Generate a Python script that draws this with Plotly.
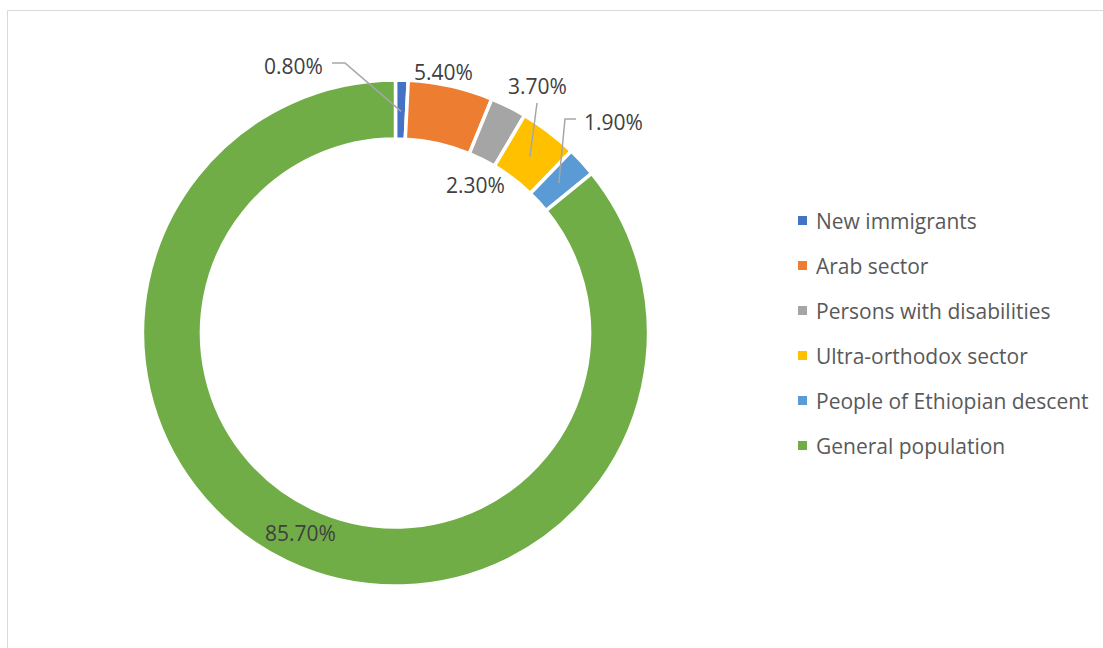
import math
import plotly.graph_objects as go

# ---- data ----
categories = ["New immigrants", "Arab sector", "Persons with disabilities",
              "Ultra-orthodox sector", "People of Ethiopian descent", "General population"]
values = [0.8, 5.4, 2.3, 3.7, 1.9, 85.7]
colors = ["#4472C4", "#ED7D31", "#A5A5A5", "#FFC000", "#5B9BD5", "#70AD47"]

W, H = 1103, 648
CX, CY = 395.5, 333.0
R_OUT, R_IN = 251.0, 192.5
PAD = 2.0  # plotly shrinks the drawn radius slightly
FONT = "Open Sans"


def px(x):
    return x / W


def py(y):
    return 1 - y / H


fig = go.Figure()
fig.add_trace(go.Pie(
    labels=categories, values=values, sort=False, direction="clockwise", rotation=0,
    hole=R_IN / R_OUT, textinfo="none", showlegend=False, hoverinfo="label+percent",
    marker=dict(colors=colors, line=dict(color="white", width=3.5)),
    domain=dict(x=[px(CX - R_OUT - PAD), px(CX + R_OUT + PAD)],
                y=[py(CY + R_OUT + PAD), py(CY - R_OUT - PAD)]),
))

# slice mid angles (clockwise from 12 o'clock) -> point on ring midline
total = sum(values)
mids = []
acc = 0.0
for v in values:
    mids.append((acc + v / 2) / total * 2 * math.pi)
    acc += v
r_mid = (R_IN + R_OUT) / 2


def ring_pt(i):
    a = mids[i]
    return CX + r_mid * math.sin(a), CY - r_mid * math.cos(a)


# label positions (pixel) and optional leader line start points
label_pos = {0: (293, 66), 1: (443, 72), 2: (475, 185), 3: (537, 86), 4: (613, 122), 5: (300, 533)}
leaders = {0: [(332, 63), (345, 63)], 3: [(537, 103)], 4: [(576, 119), (565, 119)]}

annotations = []
shapes = []
for i, v in enumerate(values):
    x, y = label_pos[i]
    annotations.append(dict(x=px(x), y=py(y), xref="paper", yref="paper", text=f"{v:.2f}%",
                            showarrow=False, font=dict(family=FONT, size=21, color="#404040"),
                            xanchor="center", yanchor="middle"))
    if i in leaders:
        pts = leaders[i] + [ring_pt(i)]
        path = "M " + " L ".join(f"{px(a)},{py(b)}" for a, b in pts)
        shapes.append(dict(type="path", path=path, xref="paper", yref="paper",
                           line=dict(color="#A6A6A6", width=1.5)))

# manual legend
LEG_X, LEG_Y0, LEG_DY = 798, 220.5, 45
for i, (lab, col) in enumerate(zip(categories, colors)):
    yc = LEG_Y0 + i * LEG_DY
    shapes.append(dict(type="rect", xref="paper", yref="paper",
                       x0=px(LEG_X), x1=px(LEG_X + 9), y0=py(yc + 4.5), y1=py(yc - 4.5),
                       fillcolor=col, line=dict(width=0)))
    annotations.append(dict(x=px(LEG_X + 16), y=py(yc), xref="paper", yref="paper", text=lab,
                            showarrow=False, xanchor="left", yanchor="middle",
                            font=dict(family=FONT, size=21, color="#595959")))

# chart border
shapes.append(dict(type="rect", xref="paper", yref="paper", x0=px(7.5), y0=py(10.5),
                   x1=px(W + 20), y1=py(H + 20), line=dict(color="#D9D9D9", width=1),
                   fillcolor="rgba(0,0,0,0)"))

fig.update_layout(width=W, height=H, margin=dict(l=0, r=0, t=0, b=0),
                  paper_bgcolor="white", plot_bgcolor="white",
                  annotations=annotations, shapes=shapes, showlegend=False)

fig.write_html("out.html", config={"displayModeBar": False},
               post_script="document.body.style.margin='0';document.body.style.overflow='hidden';")
